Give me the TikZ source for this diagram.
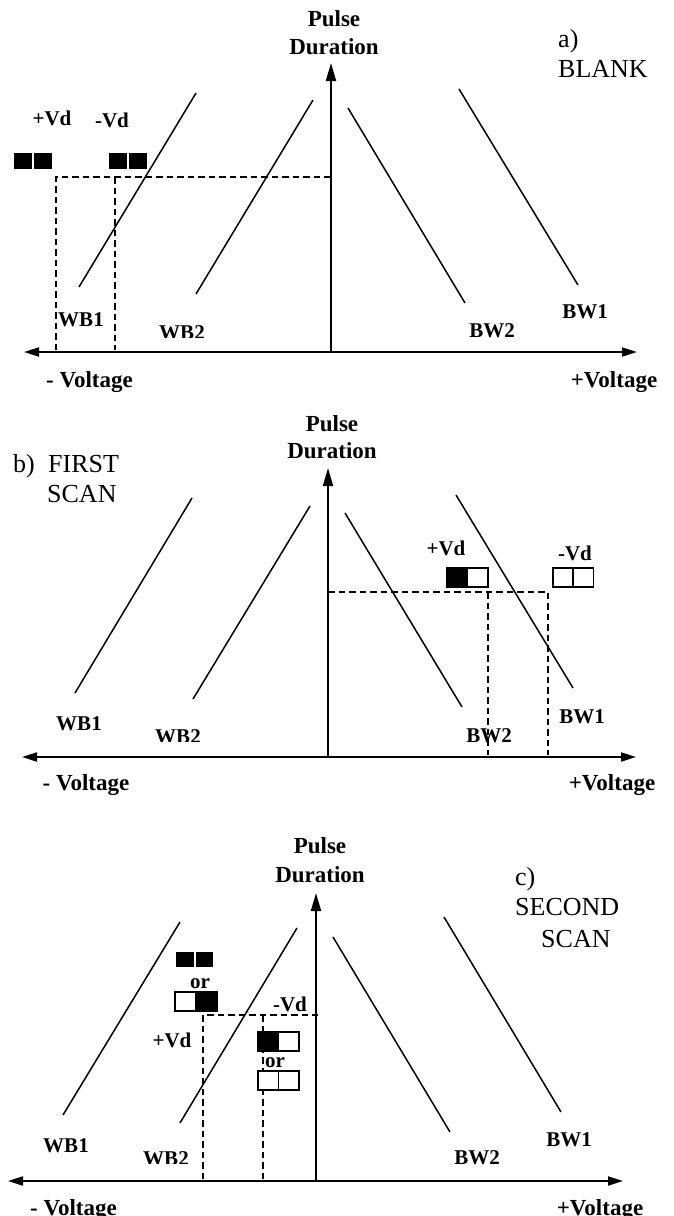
\documentclass[tikz,border=0pt]{standalone}
\usepackage{fontspec}
\setmainfont{Liberation Serif}
\usetikzlibrary{arrows.meta}
\tikzset{
  haxis/.style={line width=2pt, {Triangle[length=15pt,width=9pt]}-{Triangle[length=15pt,width=9pt]}},
  vaxis/.style={line width=2pt, -{Triangle[length=18pt,width=10pt]}},
  curve/.style={line width=1.5pt},
  guide/.style={line width=1.5pt, dash pattern=on 6.5pt off 4pt},
  bl/.style={font=\fontsize{21}{21}\selectfont\bfseries, inner sep=0pt, anchor=base},
  hd/.style={font=\fontsize{23}{23}\selectfont\bfseries, inner sep=0pt, anchor=base},
  tt/.style={font=\fontsize{26}{26}\selectfont, inner sep=0pt, anchor=base west},
  cellw/.style={draw, line width=1.5pt, fill=white, minimum width=20.5pt, minimum height=19pt, inner sep=0pt, anchor=north west},
  cellb/.style={cellw, fill=black},
  sq/.style={fill=black, minimum width=18pt, minimum height=16pt, inner sep=0pt, anchor=north west},
}
\begin{document}
\begin{tikzpicture}[x=1pt,y=-1pt]
\useasboundingbox (0,0) rectangle (674,1216);

% ---------------- panel a ----------------
\begin{scope}
\clip (0,0) rectangle (674,391);
\coordinate (aL) at (24,352); \coordinate (aR) at (637,352);
\coordinate (aO) at (331,352); \coordinate (aT) at (331,63);
\draw[haxis] (aL) -- (aR);
\draw[vaxis] (aO) -- (aT);
\coordinate (aWB1s) at (79,287);  \coordinate (aWB1e) at (196,93);
\coordinate (aWB2s) at (196,294); \coordinate (aWB2e) at (313,100);
\coordinate (aBW2s) at (348,108); \coordinate (aBW2e) at (465,303);
\coordinate (aBW1s) at (459,89);  \coordinate (aBW1e) at (578,285);
\draw[curve] (aWB1s) -- (aWB1e);
\draw[curve] (aWB2s) -- (aWB2e);
\draw[curve] (aBW2s) -- (aBW2e);
\draw[curve] (aBW1s) -- (aBW1e);
\coordinate (aG1) at (56,350); \coordinate (aG2) at (56,177); \coordinate (aG3) at (331,177);
\coordinate (aG4) at (115,177); \coordinate (aG5) at (115,350);
\draw[guide] (aG1) -- (aG2) -- (aG3);
\draw[guide] (aG4) -- (aG5);
\node[sq] (aP1) at (14,153) {}; \node[sq] (aP2) at (34,153) {};
\node[sq] (aM1) at (109,153) {}; \node[sq] (aM2) at (129,153) {};
\node[hd] (aPu) at (334,26) {Pulse};
\node[hd] (aDu) at (334,54) {Duration};
\node[tt] (aLa) at (558,47) {a)};
\node[tt] (aLb) at (558,77) {BLANK};
\node[bl] (aVp) at (52,125) {+Vd};
\node[bl] (aVm) at (112,127) {-Vd};
\node[bl] (aWB1) at (81,326) {WB1};
\begin{scope}\clip (140,300) rectangle (230,337);
\node[bl] (aWB2) at (182,339) {WB2};
\end{scope}
\node[bl] (aBW2) at (492,337) {BW2};
\node[bl] (aBW1) at (585,318) {BW1};
\node[hd] (aVl) at (89.5,387) {- Voltage};
\node[hd] (aVr) at (614,387) {+Voltage};
\end{scope}

% ---------------- panel b ----------------
\begin{scope}
\clip (0,395) rectangle (674,794);
\coordinate (bL) at (22,757); \coordinate (bR) at (636,757);
\coordinate (bO) at (328,757); \coordinate (bT) at (328,468);
\draw[haxis] (bL) -- (bR);
\draw[vaxis] (bO) -- (bT);
\coordinate (bWB1s) at (75,693);  \coordinate (bWB1e) at (192,498);
\coordinate (bWB2s) at (193,699); \coordinate (bWB2e) at (310,506);
\coordinate (bBW2s) at (345,513); \coordinate (bBW2e) at (462,707);
\coordinate (bBW1s) at (456,495); \coordinate (bBW1e) at (573,688);
\draw[curve] (bWB1s) -- (bWB1e);
\draw[curve] (bWB2s) -- (bWB2e);
\draw[curve] (bBW2s) -- (bBW2e);
\draw[curve] (bBW1s) -- (bBW1e);
\coordinate (bG1) at (328,592); \coordinate (bG2) at (548,592); \coordinate (bG3) at (548,755);
\coordinate (bG4) at (488,592); \coordinate (bG5) at (488,755);
\draw[guide] (bG1) -- (bG2) -- (bG3);
\draw[guide] (bG4) -- (bG5);
\node[cellb] (bP1) at (446,567) {}; \node[cellw] (bP2) at (466.5,567) {};
\node[cellw] (bM1) at (552,567) {}; \node[cellw] (bM2) at (572,567) {};
\node[hd] (bPu) at (332,431) {Pulse};
\node[hd] (bDu) at (332,458) {Duration};
\node[tt] (bLa) at (13,472) {b)};
\node[tt] (bLb) at (48,472) {FIRST};
\node[tt] (bLc) at (47,502) {SCAN};
\node[bl] (bVp) at (446,555) {+Vd};
\node[bl] (bVm) at (575,560) {-Vd};
\node[bl] (bWB1) at (79,730) {WB1};
\begin{scope}\clip (130,700) rectangle (230,741);
\node[bl] (bWB2) at (178,743) {WB2};
\end{scope}
\node[bl] (bBW2) at (489,742) {BW2};
\node[bl] (bBW1) at (582,723) {BW1};
\node[hd] (bVl) at (86,790) {- Voltage};
\node[hd] (bVr) at (612,790) {+Voltage};
\end{scope}

% ---------------- panel c ----------------
\begin{scope}
\clip (0,800) rectangle (674,1216);
\coordinate (cL) at (8,1181); \coordinate (cR) at (623,1181);
\coordinate (cO) at (316,1181); \coordinate (cT) at (316,893);
\draw[haxis] (cL) -- (cR);
\draw[vaxis] (cO) -- (cT);
\coordinate (cWB1s) at (63,1115);  \coordinate (cWB1e) at (180,922);
\coordinate (cWB2s) at (180,1123); \coordinate (cWB2e) at (297,928);
\coordinate (cBW2s) at (333,937);  \coordinate (cBW2e) at (450,1132);
\coordinate (cBW1s) at (444,917);  \coordinate (cBW1e) at (561,1112);
\draw[curve] (cWB1s) -- (cWB1e);
\draw[curve] (cWB2s) -- (cWB2e);
\draw[curve] (cBW2s) -- (cBW2e);
\draw[curve] (cBW1s) -- (cBW1e);
\coordinate (cG1) at (203,1179); \coordinate (cG2) at (203,1015); \coordinate (cG3) at (318,1015);
\coordinate (cG4) at (263,1015); \coordinate (cG5) at (263,1179);
\draw[guide] (cG1) -- (cG2) -- (cG3);
\draw[guide] (cG4) -- (cG5);
\node[sq, minimum width=17.5pt, minimum height=15pt] (cQ1) at (176,952) {};
\node[sq, minimum width=17.5pt, minimum height=15pt] (cQ2) at (195.5,952) {};
\node[cellw, minimum width=21pt] (cR1) at (174,991) {}; \node[cellb, minimum width=21pt] (cR2) at (195,991) {};
\node[cellb] (cS1) at (257,1031) {}; \node[cellw] (cS2) at (277.5,1031) {};
\node[cellw] (cT1) at (257,1070) {}; \node[cellw] (cT2) at (277.5,1070) {};
\node[hd] (cPu) at (320,853) {Pulse};
\node[hd] (cDu) at (320,882) {Duration};
\node[tt] (cLa) at (515,885) {c)};
\node[tt] (cLb) at (515,915) {SECOND};
\node[tt] (cLc) at (541,947) {SCAN};
\node[bl] (cOr1) at (200,988) {or};
\node[bl] (cVm) at (290,1011) {-Vd};
\node[bl] (cVp) at (172,1047) {+Vd};
\node[bl] (cOr2) at (275,1067) {or};
\node[bl] (cWB1) at (66,1152) {WB1};
\begin{scope}\clip (120,1130) rectangle (200,1163);
\node[bl] (cWB2) at (166,1165) {WB2};
\end{scope}
\node[bl] (cBW2) at (477,1164) {BW2};
\node[bl] (cBW1) at (569,1146) {BW1};
\node[hd] (cVl) at (73.5,1215) {- Voltage};
\node[hd] (cVr) at (600,1215) {+Voltage};
\end{scope}
\end{tikzpicture}
\end{document}
